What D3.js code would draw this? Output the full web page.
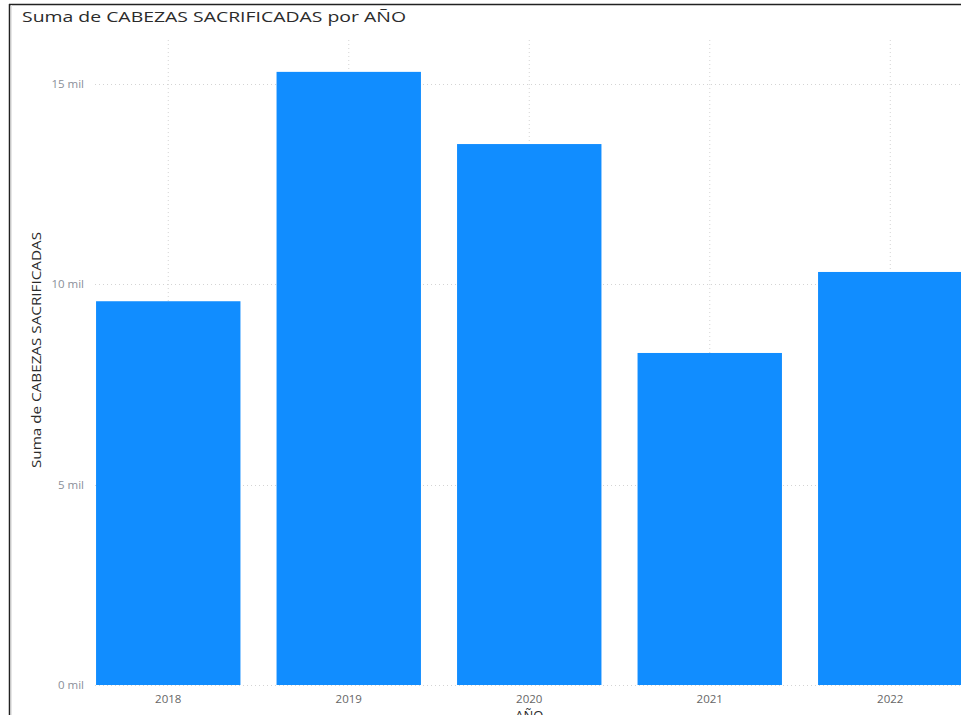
<!DOCTYPE html>
<html>
<head>
<meta charset="utf-8">
<script src="https://cdn.jsdelivr.net/npm/d3@7"></script>
<style>
html, body { margin: 0; padding: 0; background: #fff; overflow: hidden; }
svg { display: block; }
</style>
</head>
<body>
<svg id="chart" width="961" height="715"></svg>
<script>
const categories = ["2018", "2019", "2020", "2021", "2022"];
const values = [9570, 15290, 13490, 8280, 10300];
const yTicks = [0, 5000, 10000, 15000];
const yTickLabels = ["0 mil", "5 mil", "10 mil", "15 mil"];
const chartTitle = "Suma de CABEZAS SACRIFICADAS por AÑO";
const yTitle = "Suma de CABEZAS SACRIFICADAS";
const xTitle = "AÑO";

const svg = d3.select("#chart");
const W = 961, H = 715;
const font = "'Open Sans', 'Noto Sans', sans-serif";

const x = d3.scaleBand().domain(categories).range([78, 980.5]).paddingInner(0.2).paddingOuter(0.1);
const y = d3.scaleLinear().domain([0, 15000]).range([685, 83.5]);

// frame
svg.append("line").attr("x1", 9).attr("x2", W).attr("y1", 4.5).attr("y2", 4.5).attr("stroke", "#222").attr("stroke-width", 1.5);
svg.append("line").attr("x1", 9.5).attr("x2", 9.5).attr("y1", 4).attr("y2", H).attr("stroke", "#222").attr("stroke-width", 1.5);
svg.append("line").attr("x1", 11.5).attr("x2", 11.5).attr("y1", 5).attr("y2", H).attr("stroke", "#e6e6e6").attr("stroke-width", 1);

// vertical gridlines at category centers
svg.append("g").selectAll("line").data(categories).join("line")
  .attr("x1", d => x(d) + x.bandwidth() / 2).attr("x2", d => x(d) + x.bandwidth() / 2)
  .attr("y1", 40).attr("y2", 685)
  .attr("stroke", "#d4d4d4").attr("stroke-width", 1).attr("stroke-dasharray", "1,3");

// horizontal gridlines
svg.append("g").selectAll("line").data(yTicks).join("line")
  .attr("x1", 95).attr("x2", W)
  .attr("y1", d => Math.round(y(d)) + 0.5).attr("y2", d => Math.round(y(d)) + 0.5)
  .attr("stroke", "#d4d4d4").attr("stroke-width", 1).attr("stroke-dasharray", "1,3");

// bars
svg.append("g").selectAll("rect").data(categories).join("rect")
  .attr("x", d => x(d)).attr("width", x.bandwidth())
  .attr("y", (d, i) => y(values[i])).attr("height", (d, i) => y(0) - y(values[i]))
  .attr("fill", "#118dff");

// y tick labels
svg.append("g").selectAll("text").data(yTicks).join("text")
  .attr("x", 84).attr("y", d => y(d) + 4)
  .attr("text-anchor", "end")
  .attr("font-family", font).attr("font-size", 11.5).attr("fill", "#8a8f99")
  .text((d, i) => yTickLabels[i]);

// x tick labels
svg.append("g").selectAll("text").data(categories).join("text")
  .attr("x", d => x(d) + x.bandwidth() / 2).attr("y", 703)
  .attr("text-anchor", "middle")
  .attr("font-family", font).attr("font-size", 11.5).attr("fill", "#666")
  .text(d => d);

// title
svg.append("text").attr("x", 22).attr("y", 22)
  .attr("font-family", font).attr("font-size", 15).attr("fill", "#2b2b2b")
  .attr("textLength", 384).attr("lengthAdjust", "spacingAndGlyphs")
  .text(chartTitle);

// y axis title
svg.append("text")
  .attr("transform", "translate(41,350) rotate(-90)")
  .attr("text-anchor", "middle")
  .attr("font-family", font).attr("font-size", 13).attr("fill", "#2b2b2b")
  .attr("textLength", 236).attr("lengthAdjust", "spacingAndGlyphs")
  .text(yTitle);

// x axis title (partly cut off at bottom, as in the reference)
svg.append("text").attr("x", x("2020") + x.bandwidth() / 2).attr("y", 720)
  .attr("text-anchor", "middle")
  .attr("font-family", font).attr("font-size", 13).attr("fill", "#2b2b2b")
  .text(xTitle);
</script>
</body>
</html>
